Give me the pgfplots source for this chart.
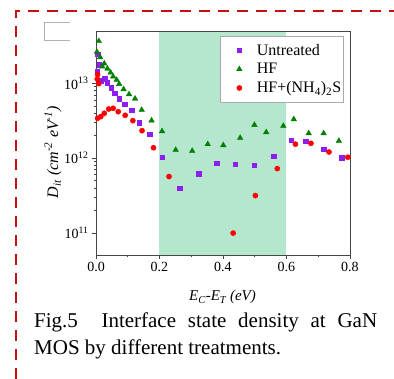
\documentclass[border=0pt]{standalone}
\usepackage{fontspec}
\setmainfont{Liberation Serif}
\usepackage{pgfplots}
\pgfplotsset{compat=1.18}
\definecolor{untr}{RGB}{140,30,240}
\definecolor{hfg}{RGB}{0,128,0}
\definecolor{nhr}{RGB}{255,0,0}
\definecolor{shade}{RGB}{181,230,206}
\definecolor{frame}{RGB}{200,16,16}
\definecolor{axgray}{RGB}{70,70,70}
\begin{document}
\begin{tikzpicture}
\useasboundingbox (0,0) rectangle (394pt,379pt);
% dashed frame
\draw[frame, line width=2.8pt, dash pattern=on 11pt off 8pt] (16pt,0pt) -- (16pt,368pt) -- (394pt,368pt);
% small gray open box
\draw[gray!60, line width=0.8pt] (70pt,357pt) -- (44pt,357pt) -- (44pt,339pt) -- (70pt,339pt);
\begin{axis}[
  at={(96pt,124pt)}, anchor=south west,
  scale only axis, width=254pt, height=224pt,
  xmin=0, xmax=0.8, ymode=log, ymin=5.1e10, ymax=5e13,
  xtick={0,0.2,0.4,0.6,0.8}, xticklabels={0.0,0.2,0.4,0.6,0.8},
  minor x tick num=1,
  ytick={1e11,1e12,1e13}, yticklabels={10\textsuperscript{11},10\textsuperscript{12},10\textsuperscript{13}},
  tick pos=left, tick align=outside,
  major tick length=4pt, minor tick length=2.5pt,
  tick style={axgray, line width=0.7pt},
  axis line style={axgray, line width=0.9pt},
  /pgf/number format/assume math mode=true,
  tick label style={font=\fontsize{14}{16}\selectfont},
  xlabel={\textit{E\textsubscript{C}-E\textsubscript{T} (eV)}},
  xlabel style={at={(axis description cs:0.498,0)}, anchor=base, yshift=-46pt, font=\fontsize{15}{17}\selectfont},
  ylabel={\textit{D\textsubscript{it} (cm\textsuperscript{-2} eV\textsuperscript{-1})}},
  ylabel style={at={(axis description cs:-0.169,0.46)}, anchor=center, rotate=0, font=\fontsize{16}{18}\selectfont},
  axis on top,
  legend image code/.code={\path[draw=none, fill=none] (0pt,-4pt) rectangle (34pt,4pt); \draw[#1] plot coordinates {(18pt,0pt)};},
  legend style={at={(0.976,0.978)}, anchor=north east, draw={rgb,255:red,170;green,170;blue,170}, font=\fontsize{16}{19}\selectfont, cells={anchor=west}, inner xsep=1pt, inner ysep=7pt, row sep=4.5pt, nodes={inner xsep=1.5pt, inner ysep=1pt}},
]
\addplot[draw=none, fill=shade, forget plot] coordinates {(0.2,5.1e10) (0.2,5e13) (0.6,5e13) (0.6,5.1e10)} -- cycle;
\addplot[only marks, mark=square*, mark size=2.2pt, mark options={draw=untr, fill=untr}] coordinates {
(0.005,2.46e13) (0.011,1.78e13) (0.004,1.44e13) (0.017,1.09e13) (0.028,1.15e13)
(0.036,1.02e13) (0.047,8.71e12) (0.059,7.43e12) (0.073,6.21e12) (0.090,5.25e12)
(0.112,4.41e12) (0.136,2.99e12) (0.169,2.09e12) (0.209,1.035e12) (0.263,3.98e11)
(0.323,6.24e11) (0.380,8.58e11) (0.439,8.32e11) (0.499,8.07e11) (0.560,1.06e12)
(0.614,1.74e12) (0.660,1.69e12) (0.717,1.33e12) (0.774,1.02e12)};
\addlegendentry{Untreated}
\addplot[only marks, mark=triangle*, mark size=3.2pt, mark options={draw=hfg, fill=hfg}] coordinates {
(0.009,3.66e13) (0.003,2.63e13) (0.013,2.23e13) (0.026,1.84e13) (0.020,1.67e13)
(0.036,1.57e13) (0.046,1.39e13) (0.054,1.23e13) (0.065,1.11e13) (0.073,9.8e12)
(0.087,8.34e12) (0.104,7.13e12) (0.123,6.24e12) (0.144,4.41e12) (0.175,3.19e12)
(0.208,2.29e12) (0.251,1.29e12) (0.303,1.25e12) (0.352,1.54e12) (0.401,1.49e12)
(0.454,1.87e12) (0.499,2.78e12) (0.536,2.22e12) (0.590,2.70e12) (0.623,3.31e12)
(0.670,2.15e12) (0.717,2.15e12) (0.765,1.70e12)};
\addlegendentry{HF}
\addplot[only marks, mark=*, mark size=2.6pt, mark options={draw=nhr, fill=nhr}] coordinates {
(0.005,1.31e13) (0.004,1.14e13) (0.009,9.94e12) (0.005,3.41e12) (0.015,3.59e12)
(0.026,3.98e12) (0.040,4.54e12) (0.054,4.64e12) (0.070,4.18e12) (0.092,3.74e12)
(0.116,3.17e12) (0.145,2.33e12) (0.181,1.38e12) (0.230,5.69e11) (0.432,1.0e11)
(0.502,3.17e11) (0.571,7.26e11) (0.628,1.54e12) (0.677,1.58e12) (0.734,1.21e12)
(0.793,1.03e12)};
\addlegendentry{HF+(NH\textsubscript{4})\textsubscript{2}S}
\end{axis}
\node[anchor=north west, inner sep=0pt, text width=343pt, align=justify, font=\fontsize{21}{27}\selectfont] at (34pt,66pt)
{Fig.5\ \ Interface state density at GaN\linebreak MOS by different treatments.};
\end{tikzpicture}
\end{document}
